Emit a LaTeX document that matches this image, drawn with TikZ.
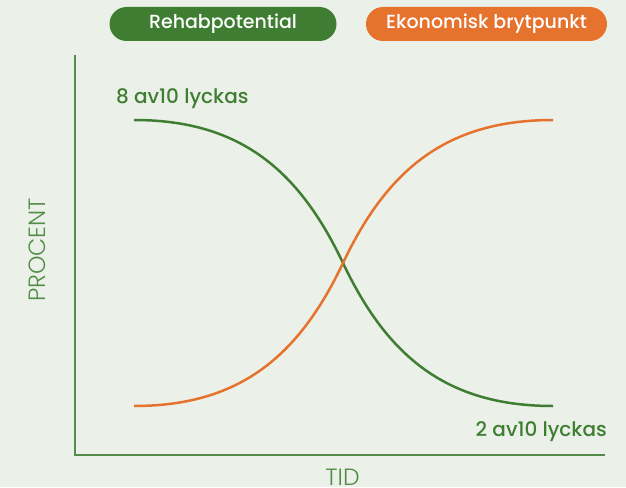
\documentclass[tikz,border=0pt]{standalone}
\usepackage{fontspec}
\setmainfont{Poppins}
\newfontfamily\pillfont{Poppins Medium}
\newfontfamily\axisfont{Poppins Light}
\usetikzlibrary{positioning}
\definecolor{bgcol}{RGB}{235,241,233}
\definecolor{rehab}{RGB}{63,126,50}
\definecolor{ekon}{RGB}{229,115,45}
\definecolor{axiscol}{RGB}{82,140,72}

\begin{document}
\begin{tikzpicture}[x=1pt,y=-1pt,
  pill/.style={rounded corners=17pt,minimum height=34pt,inner sep=0pt,text=white,font=\pillfont\fontsize{19}{19}\selectfont},
  curve/.style={line width=2.5pt},
  axis/.style={draw=axiscol,line width=1.3pt},
  axislabel/.style={text=axiscol,inner sep=0pt,font=\axisfont\fontsize{23.5}{23.5}\selectfont},
  count/.style={text=rehab,inner sep=0pt,font=\pillfont\fontsize{20}{20}\selectfont}]
% background
\fill[bgcol] (0,0) rectangle (626,487);
\useasboundingbox (0,0) rectangle (626,487);

% legend pills
\node[pill,fill=rehab,minimum width=227pt] (rehab) at (223,24) {Rehabpotential};
\node[pill,fill=ekon,minimum width=241pt] (ekon) at (486.5,24) {Ekonomisk brytpunkt};

% axes
\coordinate (origo) at (75,455);
\coordinate (ytop) at (75,55);
\coordinate (xend) at (605,455);
\draw[axis] (ytop) -- (origo) -- (xend);
\node[axislabel,rotate=90] (procent) at (37.5,250) {PROCENT};
\node[axislabel,anchor=base] (tid) at (342.5,485) {TID};

% curves
\draw[curve,rehab] (134,120) .. controls (238,120) and (298,168) .. (343,263)
  .. controls (388,358) and (448,406) .. (553,406);
\draw[curve,ekon] (134,406) .. controls (238,406) and (298,358) .. (343,263)
  .. controls (388,168) and (448,120) .. (553,120);

% end labels
\node[count,anchor=base west] (hog) at (116,103) {8 av10 lyckas};
\node[count,anchor=base east] (lag) at (607,436) {2 av10 lyckas};
\end{tikzpicture}
\end{document}
